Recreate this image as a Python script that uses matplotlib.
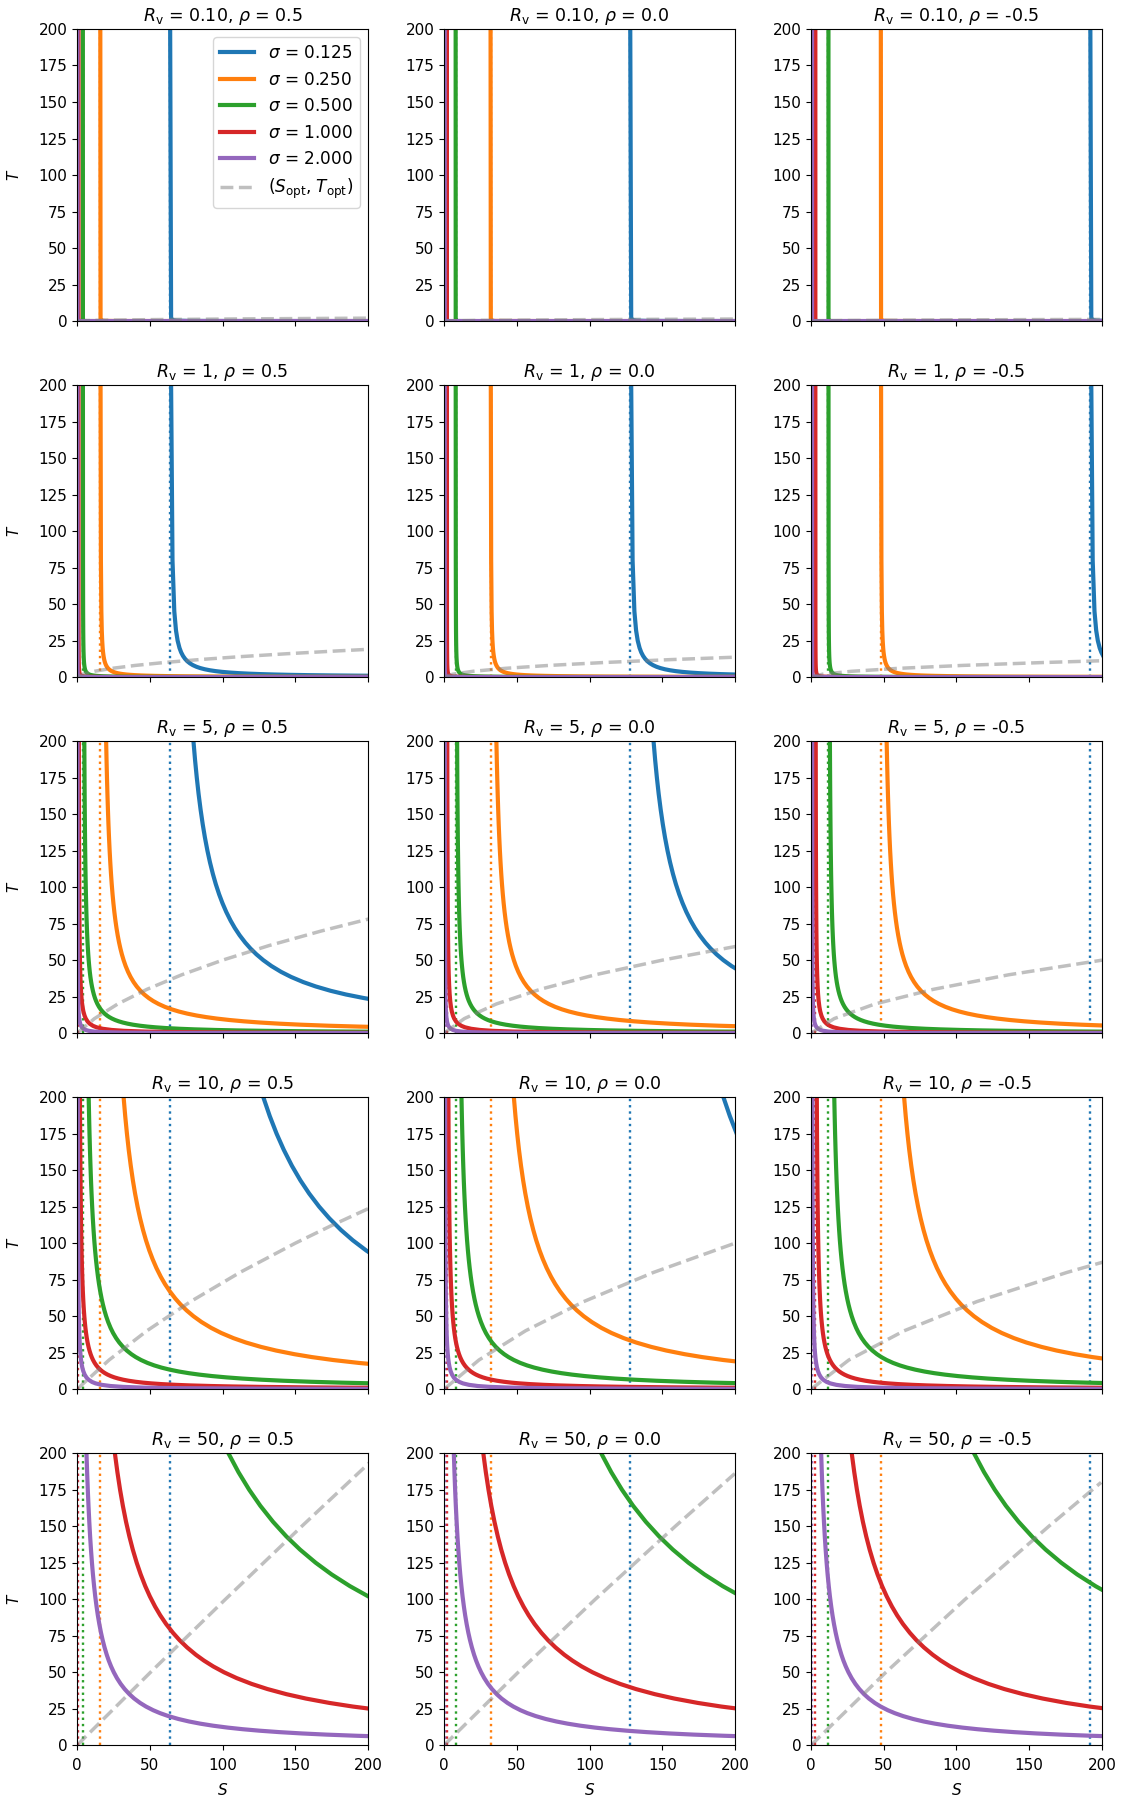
import matplotlib
matplotlib.use("Agg")
import matplotlib.pyplot as plt

# ---------------- data ----------------
sigma_labels = ["0.125", "0.250", "0.500", "1.000", "2.000"]
colors = ["#1f77b4", "#ff7f0e", "#2ca02c", "#d62728", "#9467bd"]
rv_labels = ["0.10", "1", "5", "10", "50"]
rho_labels = ["0.5", "0.0", "-0.5"]

# dotted vertical lines (asymptotes), one list per rho column
asym_rho05 = [64, 16, 4, 1, 0.25]
asym_rho00 = [128, 32, 8, 2, 0.5]
asym_rhom05 = [192, 48, 12, 3, 0.75]

# T levels at which the S position of each curve was read
T_lv_rv010 = [200, 2, 1, 0.5, 0.3, 0.1, 0.03, 0.01, 0.003, 0.001, 0.0001, 0.00001]
T_lv_rv1 = [200, 80, 45, 32, 25, 20, 17, 14.5, 12.5, 10.8, 9.4, 8.2, 7.1, 6.2, 5.4,
            4.7, 4.1, 3.6, 3.1, 2.7, 2.35, 2.05, 1.8, 1.55, 1.35, 1.15, 1.0, 0.85,
            0.7, 0.55, 0.4, 0.25, 0.12, 0.05, 0.02, 0.008, 0.002]
T_lv_rv5 = [200, 160, 130, 105, 85, 70, 58, 48, 40, 33, 27, 22, 18, 15, 12, 10,
            8, 6.5, 5, 4, 3, 2.2, 1.6, 1.1, 0.7, 0.4, 0.2, 0.1, 0.05]
T_lv_rv10 = [200, 175, 150, 130, 113, 100, 88, 77, 68, 60, 52, 45, 39, 34, 29,
             25, 21, 18, 15, 12.5, 10, 8, 6.5, 5, 4, 3, 2.2, 1.6, 1.1, 0.7, 0.4, 0.25]
T_fine = [200, 187, 175, 164, 153, 143, 134, 125, 117, 109, 102, 95, 89, 83, 77,
          72, 67, 62, 58, 54, 50, 46, 42, 38.5, 35, 32, 29, 26.5, 24, 22, 20, 18,
          16.3, 14.8, 13.4, 12.1, 11, 10, 9, 8.1, 7.3, 6.5, 5.8, 5.1, 4.5, 4, 3.5,
          3, 2.6, 2.2, 1.9, 1.6, 1.3, 1.1, 0.9, 0.7, 0.5, 0.35, 0.25]

# S of each sigma curve (0.125, 0.25, 0.5, 1, 2) at those T levels
S_rv010_rho05 = [
    [64.0, 64.64, 65.28, 66.56, 68.27, 76.8, 106.67, 192.0, 490.67],
    [16.0, 16.16, 16.32, 16.64, 17.07, 19.2, 26.67, 48.0, 122.67, 336.0],
    [4.0, 4.04, 4.08, 4.16, 4.27, 4.8, 6.67, 12.0, 30.67, 84.0, 804.0],
    [1.0, 1.01, 1.02, 1.04, 1.07, 1.2, 1.67, 3.0, 7.67, 21.0, 201.0],
    [0.25, 0.25, 0.26, 0.26, 0.27, 0.3, 0.42, 0.75, 1.92, 5.25, 50.25, 500.25],
]
S_rv010_rho00 = [
    [128.0, 128.64, 129.28, 130.56, 132.27, 140.8, 170.67, 256.0],
    [32.0, 32.16, 32.32, 32.64, 33.07, 35.2, 42.67, 64.0, 138.67, 352.0],
    [8.0, 8.04, 8.08, 8.16, 8.27, 8.8, 10.67, 16.0, 34.67, 88.0, 808.0],
    [2.0, 2.01, 2.02, 2.04, 2.07, 2.2, 2.67, 4.0, 8.67, 22.0, 202.0],
    [0.5, 0.5, 0.51, 0.51, 0.52, 0.55, 0.67, 1.0, 2.17, 5.5, 50.5, 500.5],
]
S_rv010_rhom05 = [
    [192.0, 192.64, 193.28, 194.56, 196.27, 204.8],
    [48.0, 48.16, 48.32, 48.64, 49.07, 51.2, 58.67, 80.0, 154.67, 368.0],
    [12.0, 12.04, 12.08, 12.16, 12.27, 12.8, 14.67, 20.0, 38.67, 92.0, 812.0],
    [3.0, 3.01, 3.02, 3.04, 3.07, 3.2, 3.67, 5.0, 9.67, 23.0, 203.0],
    [0.75, 0.75, 0.76, 0.76, 0.77, 0.8, 0.92, 1.25, 2.42, 5.75, 50.75, 500.75],
]

S_rv1_rho05 = [
    [64.64, 65.6, 66.84, 68.0, 69.12, 70.4, 71.53, 72.83, 74.24, 75.85, 77.62, 79.61,
     82.03, 84.65, 87.7, 91.23, 95.22, 99.56, 105.29, 111.41, 118.47, 126.44, 135.11,
     146.58, 158.81, 175.3, 192.0, 214.59],
    [16.16, 16.4, 16.71, 17.0, 17.28, 17.6, 17.88, 18.21, 18.56, 18.96, 19.4, 19.9,
     20.51, 21.16, 21.93, 22.81, 23.8, 24.89, 26.32, 27.85, 29.62, 31.61, 33.78, 36.65,
     39.7, 43.83, 48.0, 53.65, 61.71, 74.18, 96.0, 144.0, 282.67],
    [4.04, 4.1, 4.18, 4.25, 4.32, 4.4, 4.47, 4.55, 4.64, 4.74, 4.85, 4.98, 5.13, 5.29,
     5.48, 5.7, 5.95, 6.22, 6.58, 6.96, 7.4, 7.9, 8.44, 9.16, 9.93, 10.96, 12.0, 13.41,
     15.43, 18.55, 24.0, 36.0, 70.67, 164.0, 404.0],
    [1.01, 1.03, 1.04, 1.06, 1.08, 1.1, 1.12, 1.14, 1.16, 1.19, 1.21, 1.24, 1.28, 1.32,
     1.37, 1.43, 1.49, 1.56, 1.65, 1.74, 1.85, 1.98, 2.11, 2.29, 2.48, 2.74, 3.0, 3.35,
     3.86, 4.64, 6.0, 9.0, 17.67, 41.0, 101.0, 251.0],
    [0.25, 0.26, 0.26, 0.27, 0.27, 0.28, 0.28, 0.28, 0.29, 0.3, 0.3, 0.31, 0.32, 0.33,
     0.34, 0.36, 0.37, 0.39, 0.41, 0.44, 0.46, 0.49, 0.53, 0.57, 0.62, 0.68, 0.75, 0.84,
     0.96, 1.16, 1.5, 2.25, 4.42, 10.25, 25.25, 62.75, 250.25],
]
S_rv1_rho00 = [
    [128.64, 129.6, 130.84, 132.0, 133.12, 134.4, 135.53, 136.83, 138.24, 139.85, 141.62,
     143.61, 146.03, 148.65, 151.7, 155.23, 159.22, 163.56, 169.29, 175.41, 182.47,
     190.44, 199.11, 210.58],
    [32.16, 32.4, 32.71, 33.0, 33.28, 33.6, 33.88, 34.21, 34.56, 34.96, 35.4, 35.9,
     36.51, 37.16, 37.93, 38.81, 39.8, 40.89, 42.32, 43.85, 45.62, 47.61, 49.78, 52.65,
     55.7, 59.83, 64.0, 69.65, 77.71, 90.18, 112.0, 160.0, 298.67],
    [8.04, 8.1, 8.18, 8.25, 8.32, 8.4, 8.47, 8.55, 8.64, 8.74, 8.85, 8.98, 9.13, 9.29,
     9.48, 9.7, 9.95, 10.22, 10.58, 10.96, 11.4, 11.9, 12.44, 13.16, 13.93, 14.96, 16.0,
     17.41, 19.43, 22.55, 28.0, 40.0, 74.67, 168.0, 408.0],
    [2.01, 2.03, 2.04, 2.06, 2.08, 2.1, 2.12, 2.14, 2.16, 2.19, 2.21, 2.24, 2.28, 2.32,
     2.37, 2.43, 2.49, 2.56, 2.65, 2.74, 2.85, 2.98, 3.11, 3.29, 3.48, 3.74, 4.0, 4.35,
     4.86, 5.64, 7.0, 10.0, 18.67, 42.0, 102.0, 252.0],
    [0.5, 0.51, 0.51, 0.52, 0.52, 0.53, 0.53, 0.53, 0.54, 0.55, 0.55, 0.56, 0.57, 0.58,
     0.59, 0.61, 0.62, 0.64, 0.66, 0.69, 0.71, 0.74, 0.78, 0.82, 0.87, 0.93, 1.0, 1.09,
     1.21, 1.41, 1.75, 2.5, 4.67, 10.5, 25.5, 63.0, 250.5],
]
S_rv1_rhom05 = [
    [192.64, 193.6, 194.84, 196.0, 197.12, 198.4, 199.53, 200.83],
    [48.16, 48.4, 48.71, 49.0, 49.28, 49.6, 49.88, 50.21, 50.56, 50.96, 51.4, 51.9,
     52.51, 53.16, 53.93, 54.81, 55.8, 56.89, 58.32, 59.85, 61.62, 63.61, 65.78, 68.65,
     71.7, 75.83, 80.0, 85.65, 93.71, 106.18, 128.0, 176.0, 314.67],
    [12.04, 12.1, 12.18, 12.25, 12.32, 12.4, 12.47, 12.55, 12.64, 12.74, 12.85, 12.98,
     13.13, 13.29, 13.48, 13.7, 13.95, 14.22, 14.58, 14.96, 15.4, 15.9, 16.44, 17.16,
     17.93, 18.96, 20.0, 21.41, 23.43, 26.55, 32.0, 44.0, 78.67, 172.0, 412.0],
    [3.01, 3.03, 3.04, 3.06, 3.08, 3.1, 3.12, 3.14, 3.16, 3.19, 3.21, 3.24, 3.28, 3.32,
     3.37, 3.43, 3.49, 3.56, 3.65, 3.74, 3.85, 3.98, 4.11, 4.29, 4.48, 4.74, 5.0, 5.35,
     5.86, 6.64, 8.0, 11.0, 19.67, 43.0, 103.0, 253.0],
    [0.75, 0.76, 0.76, 0.77, 0.77, 0.78, 0.78, 0.78, 0.79, 0.8, 0.8, 0.81, 0.82, 0.83,
     0.84, 0.86, 0.87, 0.89, 0.91, 0.94, 0.96, 0.99, 1.03, 1.07, 1.12, 1.18, 1.25, 1.34,
     1.46, 1.66, 2.0, 2.75, 4.92, 10.75, 25.75, 63.25, 250.75],
]

# Rv = 5: sigma 0.125/0.25/0.5 read on T_fine, sigma 1/2 on T_lv_rv5
S_rv5_rho05 = [
    [80.0, 81.11, 82.29, 83.51, 84.92, 86.38, 87.88, 89.6, 91.35, 93.36, 95.37, 97.68,
     99.96, 102.55, 105.56, 108.44, 111.76, 115.61, 119.17, 123.26, 128.0, 133.57,
     140.19, 147.12, 155.43, 164.0, 174.34, 184.75, 197.33, 209.45],
    [20.0, 20.28, 20.57, 20.88, 21.23, 21.59, 21.97, 22.4, 22.84, 23.34, 23.84, 24.42,
     24.99, 25.64, 26.39, 27.11, 27.94, 28.9, 29.79, 30.81, 32.0, 33.39, 35.05, 36.78,
     38.86, 41.0, 43.59, 46.19, 49.33, 52.36, 56.0, 60.44, 65.08, 70.05, 75.7, 82.12,
     88.73, 96.0, 104.89, 114.77, 125.59, 139.08, 153.93, 172.86, 193.78, 216.0],
    [5.0, 5.07, 5.14, 5.22, 5.31, 5.4, 5.49, 5.6, 5.71, 5.83, 5.96, 6.11, 6.25, 6.41,
     6.6, 6.78, 6.99, 7.23, 7.45, 7.7, 8.0, 8.35, 8.76, 9.19, 9.71, 10.25, 10.9, 11.55,
     12.33, 13.09, 14.0, 15.11, 16.27, 17.51, 18.93, 20.53, 22.18, 24.0, 26.22, 28.69,
     31.4, 34.77, 38.48, 43.22, 48.44, 54.0, 61.14, 70.67, 80.92, 94.91, 109.26, 129.0,
     157.85, 185.82, 226.22],
    [1.25, 1.31, 1.38, 1.48, 1.59, 1.71, 1.86, 2.04, 2.25, 2.52, 2.85, 3.27, 3.78, 4.33,
     5.17, 6.0, 7.25, 8.69, 11.0, 13.5, 17.67, 23.73, 32.25, 46.45, 72.43, 126.0, 251.0],
    [0.31, 0.33, 0.35, 0.37, 0.4, 0.43, 0.47, 0.51, 0.56, 0.63, 0.71, 0.82, 0.94, 1.08,
     1.29, 1.5, 1.81, 2.17, 2.75, 3.38, 4.42, 5.93, 8.06, 11.61, 18.11, 31.5, 62.75,
     125.25, 250.25],
]
S_rv5_rho00 = [
    [144.0, 145.11, 146.29, 147.51, 148.92, 150.38, 151.88, 153.6, 155.35, 157.36,
     159.37, 161.68, 163.96, 166.55, 169.56, 172.44, 175.76, 179.61, 183.17, 187.26,
     192.0, 197.57, 204.19],
    [36.0, 36.28, 36.57, 36.88, 37.23, 37.59, 37.97, 38.4, 38.84, 39.34, 39.84, 40.42,
     40.99, 41.64, 42.39, 43.11, 43.94, 44.9, 45.79, 46.81, 48.0, 49.39, 51.05, 52.78,
     54.86, 57.0, 59.59, 62.19, 65.33, 68.36, 72.0, 76.44, 81.08, 86.05, 91.7, 98.12,
     104.73, 112.0, 120.89, 130.77, 141.59, 155.08, 169.93, 188.86, 209.78],
    [9.0, 9.07, 9.14, 9.22, 9.31, 9.4, 9.49, 9.6, 9.71, 9.83, 9.96, 10.11, 10.25, 10.41,
     10.6, 10.78, 10.99, 11.23, 11.45, 11.7, 12.0, 12.35, 12.76, 13.19, 13.71, 14.25,
     14.9, 15.55, 16.33, 17.09, 18.0, 19.11, 20.27, 21.51, 22.93, 24.53, 26.18, 28.0,
     30.22, 32.69, 35.4, 38.77, 42.48, 47.22, 52.44, 58.0, 65.14, 74.67, 84.92, 98.91,
     113.26, 133.0, 161.85, 189.82, 230.22],
    [2.25, 2.31, 2.38, 2.48, 2.59, 2.71, 2.86, 3.04, 3.25, 3.52, 3.85, 4.27, 4.78, 5.33,
     6.17, 7.0, 8.25, 9.69, 12.0, 14.5, 18.67, 24.73, 33.25, 47.45, 73.43, 127.0, 252.0],
    [0.56, 0.58, 0.6, 0.62, 0.65, 0.68, 0.72, 0.76, 0.81, 0.88, 0.96, 1.07, 1.19, 1.33,
     1.54, 1.75, 2.06, 2.42, 3.0, 3.63, 4.67, 6.18, 8.31, 11.86, 18.36, 31.75, 63.0,
     125.5, 250.5],
]
S_rv5_rhom05 = [
    [],
    [52.0, 52.28, 52.57, 52.88, 53.23, 53.59, 53.97, 54.4, 54.84, 55.34, 55.84, 56.42,
     56.99, 57.64, 58.39, 59.11, 59.94, 60.9, 61.79, 62.81, 64.0, 65.39, 67.05, 68.78,
     70.86, 73.0, 75.59, 78.19, 81.33, 84.36, 88.0, 92.44, 97.08, 102.05, 107.7, 114.12,
     120.73, 128.0, 136.89, 146.77, 157.59, 171.08, 185.93, 204.86],
    [13.0, 13.07, 13.14, 13.22, 13.31, 13.4, 13.49, 13.6, 13.71, 13.83, 13.96, 14.11,
     14.25, 14.41, 14.6, 14.78, 14.99, 15.23, 15.45, 15.7, 16.0, 16.35, 16.76, 17.19,
     17.71, 18.25, 18.9, 19.55, 20.33, 21.09, 22.0, 23.11, 24.27, 25.51, 26.93, 28.53,
     30.18, 32.0, 34.22, 36.69, 39.4, 42.77, 46.48, 51.22, 56.44, 62.0, 69.14, 78.67,
     88.92, 102.91, 117.26, 137.0, 165.85, 193.82, 234.22],
    [3.25, 3.31, 3.38, 3.48, 3.59, 3.71, 3.86, 4.04, 4.25, 4.52, 4.85, 5.27, 5.78, 6.33,
     7.17, 8.0, 9.25, 10.69, 13.0, 15.5, 19.67, 25.73, 34.25, 48.45, 74.43, 128.0, 253.0],
    [0.81, 0.83, 0.85, 0.87, 0.9, 0.93, 0.97, 1.01, 1.06, 1.13, 1.21, 1.32, 1.44, 1.58,
     1.79, 2.0, 2.31, 2.67, 3.25, 3.88, 4.92, 6.43, 8.56, 12.11, 18.61, 32.0, 63.25,
     125.75, 250.75],
]

# Rv = 10: sigma 0.125..1 read on T_fine, sigma 2 on T_lv_rv10
S_rv10_rho05 = [
    [128.0, 132.45, 137.14, 142.05, 147.66, 153.51, 159.52, 166.4, 173.4, 181.43,
     189.49, 198.74, 207.82],
    [32.0, 33.11, 34.29, 35.51, 36.92, 38.38, 39.88, 41.6, 43.35, 45.36, 47.37, 49.68,
     51.96, 54.55, 57.56, 60.44, 63.76, 67.61, 71.17, 75.26, 80.0, 85.57, 92.19, 99.12,
     107.43, 116.0, 126.34, 136.75, 149.33, 161.45, 176.0, 193.78, 212.32],
    [8.0, 8.28, 8.57, 8.88, 9.23, 9.59, 9.97, 10.4, 10.84, 11.34, 11.84, 12.42, 12.99,
     13.64, 14.39, 15.11, 15.94, 16.9, 17.79, 18.81, 20.0, 21.39, 23.05, 24.78, 26.86,
     29.0, 31.59, 34.19, 37.33, 40.36, 44.0, 48.44, 53.08, 58.05, 63.7, 70.12, 76.73,
     84.0, 92.89, 102.77, 113.59, 127.08, 141.93, 160.86, 181.78, 204.0],
    [2.0, 2.07, 2.14, 2.22, 2.31, 2.4, 2.49, 2.6, 2.71, 2.83, 2.96, 3.11, 3.25, 3.41,
     3.6, 3.78, 3.99, 4.23, 4.45, 4.7, 5.0, 5.35, 5.76, 6.19, 6.71, 7.25, 7.9, 8.55,
     9.33, 10.09, 11.0, 12.11, 13.27, 14.51, 15.93, 17.53, 19.18, 21.0, 23.22, 25.69,
     28.4, 31.77, 35.48, 40.22, 45.44, 51.0, 58.14, 67.67, 77.92, 91.91, 106.26, 126.0,
     154.85, 182.82, 223.22],
    [0.5, 0.54, 0.58, 0.63, 0.69, 0.75, 0.82, 0.9, 0.99, 1.08, 1.21, 1.36, 1.53, 1.72,
     1.97, 2.25, 2.63, 3.03, 3.58, 4.25, 5.25, 6.5, 7.94, 10.25, 12.75, 16.92, 22.98,
     31.5, 45.7, 71.68, 125.25, 200.25],
]
S_rv10_rho00 = [
    [192.0, 196.45, 201.14],
    [48.0, 49.11, 50.29, 51.51, 52.92, 54.38, 55.88, 57.6, 59.35, 61.36, 63.37, 65.68,
     67.96, 70.55, 73.56, 76.44, 79.76, 83.61, 87.17, 91.26, 96.0, 101.57, 108.19,
     115.12, 123.43, 132.0, 142.34, 152.75, 165.33, 177.45, 192.0, 209.78],
    [12.0, 12.28, 12.57, 12.88, 13.23, 13.59, 13.97, 14.4, 14.84, 15.34, 15.84, 16.42,
     16.99, 17.64, 18.39, 19.11, 19.94, 20.9, 21.79, 22.81, 24.0, 25.39, 27.05, 28.78,
     30.86, 33.0, 35.59, 38.19, 41.33, 44.36, 48.0, 52.44, 57.08, 62.05, 67.7, 74.12,
     80.73, 88.0, 96.89, 106.77, 117.59, 131.08, 145.93, 164.86, 185.78, 208.0],
    [3.0, 3.07, 3.14, 3.22, 3.31, 3.4, 3.49, 3.6, 3.71, 3.83, 3.96, 4.11, 4.25, 4.41,
     4.6, 4.78, 4.99, 5.23, 5.45, 5.7, 6.0, 6.35, 6.76, 7.19, 7.71, 8.25, 8.9, 9.55,
     10.33, 11.09, 12.0, 13.11, 14.27, 15.51, 16.93, 18.53, 20.18, 22.0, 24.22, 26.69,
     29.4, 32.77, 36.48, 41.22, 46.44, 52.0, 59.14, 68.67, 78.92, 92.91, 107.26, 127.0,
     155.85, 183.82, 224.22],
    [0.75, 0.79, 0.83, 0.88, 0.94, 1.0, 1.07, 1.15, 1.24, 1.33, 1.46, 1.61, 1.78, 1.97,
     2.22, 2.5, 2.88, 3.28, 3.83, 4.5, 5.5, 6.75, 8.19, 10.5, 13.0, 17.17, 23.23, 31.75,
     45.95, 71.93, 125.5, 200.5],
]
S_rv10_rhom05 = [
    [],
    [64.0, 65.11, 66.29, 67.51, 68.92, 70.38, 71.88, 73.6, 75.35, 77.36, 79.37, 81.68,
     83.96, 86.55, 89.56, 92.44, 95.76, 99.61, 103.17, 107.26, 112.0, 117.57, 124.19,
     131.12, 139.43, 148.0, 158.34, 168.75, 181.33, 193.45, 208.0],
    [16.0, 16.28, 16.57, 16.88, 17.23, 17.59, 17.97, 18.4, 18.84, 19.34, 19.84, 20.42,
     20.99, 21.64, 22.39, 23.11, 23.94, 24.9, 25.79, 26.81, 28.0, 29.39, 31.05, 32.78,
     34.86, 37.0, 39.59, 42.19, 45.33, 48.36, 52.0, 56.44, 61.08, 66.05, 71.7, 78.12,
     84.73, 92.0, 100.89, 110.77, 121.59, 135.08, 149.93, 168.86, 189.78, 212.0],
    [4.0, 4.07, 4.14, 4.22, 4.31, 4.4, 4.49, 4.6, 4.71, 4.83, 4.96, 5.11, 5.25, 5.41,
     5.6, 5.78, 5.99, 6.23, 6.45, 6.7, 7.0, 7.35, 7.76, 8.19, 8.71, 9.25, 9.9, 10.55,
     11.33, 12.09, 13.0, 14.11, 15.27, 16.51, 17.93, 19.53, 21.18, 23.0, 25.22, 27.69,
     30.4, 33.77, 37.48, 42.22, 47.44, 53.0, 60.14, 69.67, 79.92, 93.91, 108.26, 128.0,
     156.85, 184.82, 225.22],
    [1.0, 1.04, 1.08, 1.13, 1.19, 1.25, 1.32, 1.4, 1.49, 1.58, 1.71, 1.86, 2.03, 2.22,
     2.47, 2.75, 3.13, 3.53, 4.08, 4.75, 5.75, 7.0, 8.44, 10.75, 13.25, 17.42, 23.48,
     32.0, 46.2, 72.18, 125.75, 200.75],
]

# Rv = 50: all read on T_fine
S_rv50_rho05 = [
    [],
    [],
    [104.0, 110.95, 118.29, 125.95, 134.72, 143.86, 153.25, 164.0, 174.94, 187.49,
     200.08, 214.53],
    [26.0, 27.74, 29.57, 31.49, 33.68, 35.97, 38.31, 41.0, 43.74, 46.87, 50.02, 53.63,
     57.18, 61.24, 65.94, 70.44, 75.63, 81.65, 87.21, 93.59, 101.0, 109.7, 120.05,
     130.87, 143.86, 157.25, 173.41, 189.68, 209.33],
    [6.5, 6.93, 7.39, 7.87, 8.42, 8.99, 9.58, 10.25, 10.93, 11.72, 12.5, 13.41, 14.29,
     15.31, 16.48, 17.61, 18.91, 20.41, 21.8, 23.4, 25.25, 27.42, 30.01, 32.72, 35.96,
     39.31, 43.35, 47.42, 52.33, 57.07, 62.75, 69.69, 76.94, 84.71, 93.53, 103.56,
     113.89, 125.25, 139.14, 154.57, 171.48, 192.56, 215.77],
]
S_rv50_rho00 = [
    [],
    [],
    [108.0, 114.95, 122.29, 129.95, 138.72, 147.86, 157.25, 168.0, 178.94, 191.49,
     204.08],
    [27.0, 28.74, 30.57, 32.49, 34.68, 36.97, 39.31, 42.0, 44.74, 47.87, 51.02, 54.63,
     58.18, 62.24, 66.94, 71.44, 76.63, 82.65, 88.21, 94.59, 102.0, 110.7, 121.05,
     131.87, 144.86, 158.25, 174.41, 190.68, 210.33],
    [6.75, 7.18, 7.64, 8.12, 8.67, 9.24, 9.83, 10.5, 11.18, 11.97, 12.75, 13.66, 14.54,
     15.56, 16.73, 17.86, 19.16, 20.66, 22.05, 23.65, 25.5, 27.67, 30.26, 32.97, 36.21,
     39.56, 43.6, 47.67, 52.58, 57.32, 63.0, 69.94, 77.19, 84.96, 93.78, 103.81, 114.14,
     125.5, 139.39, 154.82, 171.73, 192.81, 216.02],
]
S_rv50_rhom05 = [
    [],
    [],
    [112.0, 118.95, 126.29, 133.95, 142.72, 151.86, 161.25, 172.0, 182.94, 195.49,
     208.08],
    [28.0, 29.74, 31.57, 33.49, 35.68, 37.97, 40.31, 43.0, 45.74, 48.87, 52.02, 55.63,
     59.18, 63.24, 67.94, 72.44, 77.63, 83.65, 89.21, 95.59, 103.0, 111.7, 122.05,
     132.87, 145.86, 159.25, 175.41, 191.68, 211.33],
    [7.0, 7.43, 7.89, 8.37, 8.92, 9.49, 10.08, 10.75, 11.43, 12.22, 13.0, 13.91, 14.79,
     15.81, 16.98, 18.11, 19.41, 20.91, 22.3, 23.9, 25.75, 27.92, 30.51, 33.22, 36.46,
     39.81, 43.85, 47.92, 52.83, 57.57, 63.25, 70.19, 77.44, 85.21, 94.03, 104.06,
     114.39, 125.75, 139.64, 155.07, 171.98, 193.06, 216.27],
]

# (S_opt, T_opt) dashed curves
Sopt_rv010_rho05 = [0, 13.0, 51.0, 114.0, 202.0]
Topt_rv010_rho05 = [0, 0.5, 1.0, 1.5, 2.0]
Sopt_rv010_rho00 = [0, 25.5, 101.0, 145.2, 203.1]
Topt_rv010_rho00 = [0, 0.5, 1.0, 1.2, 1.42]
Sopt_rv010_rhom05 = [0, 24.4, 96.8, 151.0, 203.0]
Topt_rv010_rhom05 = [0, 0.4, 0.8, 1.0, 1.16]

Sopt_rv1_rho05 = [0, 4, 12, 24, 40, 60, 84, 112, 144, 180, 201.5]
Topt_rv1_rho05 = [0, 2, 4, 6, 8, 10, 12, 14, 16, 18, 19.1]
Sopt_rv1_rho00 = [0, 6, 20, 42, 72, 110, 156, 201.4]
Topt_rv1_rho00 = [0, 2, 4, 6, 8, 10, 12, 13.7]
Sopt_rv1_rhom05 = [0, 8, 28, 60, 104, 160, 202.8]
Topt_rv1_rhom05 = [0, 2, 4, 6, 8, 10, 11.3]

Sopt_rv5_rho05 = [0, 12, 28, 48, 72, 100, 132, 168, 201.7]
Topt_rv5_rho05 = [0, 10, 20, 30, 40, 50, 60, 70, 78.5]
Sopt_rv5_rho00 = [0, 14, 36, 66, 104, 150, 201.1]
Topt_rv5_rho00 = [0, 10, 20, 30, 40, 50, 59.5]
Sopt_rv5_rhom05 = [0, 16, 44, 84, 136, 200]
Topt_rv5_rhom05 = [0, 10, 20, 30, 40, 50]

Sopt_rv10_rho05 = [0, 22, 48, 78, 112, 150, 174.7, 200.9]
Topt_rv10_rho05 = [0, 20, 40, 60, 80, 100, 112, 124]
Sopt_rv10_rho00 = [0, 24, 56, 96, 144, 200]
Topt_rv10_rho00 = [0, 20, 40, 60, 80, 100]
Sopt_rv10_rhom05 = [0, 26, 64, 114, 176, 200.5]
Topt_rv10_rhom05 = [0, 20, 40, 60, 80, 87]

Sopt_rv50_rho05 = [0, 50.5, 102, 154.5, 201.5]
Topt_rv50_rho05 = [0, 50, 100, 150, 194]
Sopt_rv50_rho00 = [0, 51, 104, 159, 199.8]
Topt_rv50_rho00 = [0, 50, 100, 150, 186]
Sopt_rv50_rhom05 = [0, 51.5, 106, 163.5, 199.4]
Topt_rv50_rhom05 = [0, 50, 100, 150, 180]

# ---------------- assemble ----------------
T_grids = [
    [T_lv_rv010] * 5,
    [T_lv_rv1] * 5,
    [T_fine] * 3 + [T_lv_rv5] * 2,
    [T_fine] * 4 + [T_lv_rv10],
    [T_fine] * 5,
]
S_curves = [
    [S_rv010_rho05, S_rv010_rho00, S_rv010_rhom05],
    [S_rv1_rho05, S_rv1_rho00, S_rv1_rhom05],
    [S_rv5_rho05, S_rv5_rho00, S_rv5_rhom05],
    [S_rv10_rho05, S_rv10_rho00, S_rv10_rhom05],
    [S_rv50_rho05, S_rv50_rho00, S_rv50_rhom05],
]
opt_curves = [
    [(Sopt_rv010_rho05, Topt_rv010_rho05), (Sopt_rv010_rho00, Topt_rv010_rho00),
     (Sopt_rv010_rhom05, Topt_rv010_rhom05)],
    [(Sopt_rv1_rho05, Topt_rv1_rho05), (Sopt_rv1_rho00, Topt_rv1_rho00),
     (Sopt_rv1_rhom05, Topt_rv1_rhom05)],
    [(Sopt_rv5_rho05, Topt_rv5_rho05), (Sopt_rv5_rho00, Topt_rv5_rho00),
     (Sopt_rv5_rhom05, Topt_rv5_rhom05)],
    [(Sopt_rv10_rho05, Topt_rv10_rho05), (Sopt_rv10_rho00, Topt_rv10_rho00),
     (Sopt_rv10_rhom05, Topt_rv10_rhom05)],
    [(Sopt_rv50_rho05, Topt_rv50_rho05), (Sopt_rv50_rho00, Topt_rv50_rho00),
     (Sopt_rv50_rhom05, Topt_rv50_rhom05)],
]
asymptotes = [asym_rho05, asym_rho00, asym_rhom05]

fig, axes = plt.subplots(5, 3, figsize=(11.23, 18.0), dpi=100)
fig.subplots_adjust(left=0.0686, right=0.9813, top=0.9839, bottom=0.0304,
                    wspace=0.261, hspace=0.219)

for i in range(5):
    for j in range(3):
        ax = axes[i, j]
        for k in range(5):
            S = S_curves[i][j][k]
            T = T_grids[i][k][:len(S)]
            ax.plot(S, T, color=colors[k], lw=3,
                    label=r"$\sigma$ = " + sigma_labels[k])
            ax.axvline(asymptotes[j][k], color=colors[k], ls=":", lw=1.7)
        So, To = opt_curves[i][j]
        ax.plot(So, To, color="gray", alpha=0.5, ls="--", lw=2.5,
                label=r"($S_{\rm opt}$, $T_{\rm opt}$)")
        ax.set_xlim(0, 200)
        ax.set_ylim(0, 200)
        ax.set_xticks([0, 50, 100, 150, 200])
        ax.set_yticks([0, 25, 50, 75, 100, 125, 150, 175, 200])
        ax.tick_params(labelsize=11)
        ax.tick_params(axis="x", pad=6)
        ax.set_title(r"$R_{\rm v}$ = " + rv_labels[i] + r", $\rho$ = " + rho_labels[j],
                     fontsize=12.5)
        if j == 0:
            ax.set_ylabel(r"$T$", labelpad=12, fontsize=11)
        if i == 4:
            ax.set_xlabel(r"$S$", labelpad=6, fontsize=11)
        else:
            ax.tick_params(labelbottom=False)
        if i == 0 and j == 0:
            ax.legend(loc="upper right", fontsize=12.2)

fig.savefig("out.png", dpi=100)
